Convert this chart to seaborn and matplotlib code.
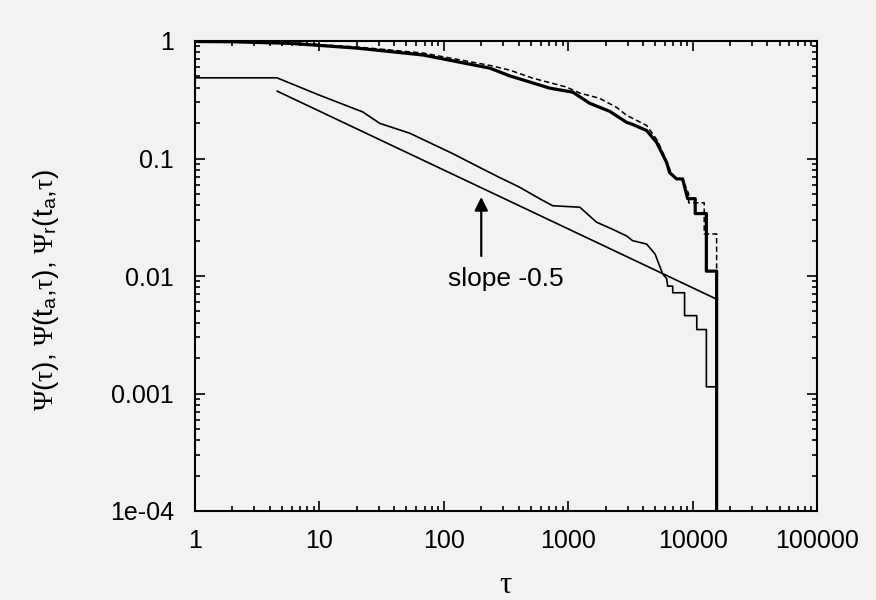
import numpy as np
import pandas as pd
import matplotlib
matplotlib.use('Agg')
import matplotlib.pyplot as plt
import seaborn as sns
from matplotlib.ticker import LogLocator, NullFormatter

# ---- data ----
tau_psi = [1, 2, 5.8, 20, 68, 234, 339, 710, 1087, 1489, 2155, 2950, 3296, 4270,
           5140, 6180, 6530, 7430, 8310, 9120, 10500, 10500, 12900, 12900, 15600, 15600]
psi = [0.99, 0.985, 0.955, 0.87, 0.76, 0.588, 0.505, 0.397, 0.367, 0.295, 0.252, 0.203,
       0.195, 0.173, 0.137, 0.0925, 0.076, 0.067, 0.067, 0.0455, 0.0455, 0.034, 0.034,
       0.011, 0.011, 1e-6]

tau_psi_ta = [1, 5.8, 20, 68, 234, 339, 518, 973, 1240, 1780, 2450, 2950, 4270, 5220,
              6180, 6700, 7430, 8310, 9300, 9300, 12400, 12400, 15600, 15600]
psi_ta = [1.0, 0.965, 0.89, 0.79, 0.62, 0.565, 0.483, 0.405, 0.36, 0.326, 0.272, 0.233,
          0.191, 0.142, 0.095, 0.076, 0.067, 0.067, 0.05, 0.042, 0.042, 0.0228, 0.0228, 1e-6]

tau_psi_r = [1, 4.56, 10, 22.3, 30.6, 53.3, 118, 194, 280, 339, 406, 600, 752, 1240, 1690,
             2270, 2950, 3290, 4270, 4990, 5750, 6180, 6300, 6920, 6920, 8620, 8620, 10800,
             10800, 12900, 12900, 15600, 15600]
psi_r = [0.486, 0.486, 0.346, 0.249, 0.199, 0.164, 0.110, 0.084, 0.069, 0.0626, 0.057,
         0.045, 0.0396, 0.0385, 0.0287, 0.025, 0.0219, 0.020, 0.0187, 0.0154, 0.0104,
         0.0095, 0.0082, 0.0082, 0.0072, 0.0072, 0.0046, 0.0046, 0.0035, 0.0035, 0.00114,
         0.00114, 1e-6]

slope_tau = [4.56, 15850]
slope_val = [0.375, 0.0063]

arrow_tau = 200
arrow_tip = 0.047
arrow_tail = 0.0148
slope_text = 'slope -0.5'
slope_text_pos = (315, 0.0094)

x_ticks = [1, 10, 100, 1000, 10000, 100000]
x_tick_labels = ['1', '10', '100', '1000', '10000', '100000']
y_ticks = [1e-4, 1e-3, 1e-2, 1e-1, 1]
y_tick_labels = ['1e-04', '0.001', '0.01', '0.1', '1']

# ---- style ----
sns.set_theme(style='ticks')
bg = '#f2f2f2'
plt.rcParams['font.family'] = ['Liberation Sans', 'DejaVu Sans']
plt.rcParams['mathtext.fontset'] = 'custom'
plt.rcParams['mathtext.rm'] = 'Liberation Sans'
plt.rcParams['mathtext.it'] = 'Liberation Serif'
plt.rcParams['mathtext.bf'] = 'Liberation Serif'
plt.rcParams['mathtext.sf'] = 'Liberation Sans'

fig = plt.figure(figsize=(8.76, 6.0), dpi=100, facecolor=bg)
ax = fig.add_axes([195 / 876, 1 - 511 / 600, (817 - 195) / 876, (511 - 41) / 600])
ax.set_facecolor(bg)
ax.set_xscale('log')
ax.set_yscale('log')

df_psi = pd.DataFrame({'tau': tau_psi, 'val': psi})
df_ta = pd.DataFrame({'tau': tau_psi_ta, 'val': psi_ta})
df_r = pd.DataFrame({'tau': tau_psi_r, 'val': psi_r})
df_slope = pd.DataFrame({'tau': slope_tau, 'val': slope_val})

sns.lineplot(data=df_r, x='tau', y='val', ax=ax, color='black', lw=1.2,
             sort=False, estimator=None, legend=False)
sns.lineplot(data=df_slope, x='tau', y='val', ax=ax, color='black', lw=1.2,
             sort=False, estimator=None, legend=False)
sns.lineplot(data=df_ta, x='tau', y='val', ax=ax, color='black', lw=1.1,
             linestyle=(0, (3.5, 2)), sort=False, estimator=None, legend=False)
sns.lineplot(data=df_psi, x='tau', y='val', ax=ax, color='black', lw=2.3,
             sort=False, estimator=None, legend=False)

ax.annotate('', xy=(arrow_tau, arrow_tip), xytext=(arrow_tau, arrow_tail),
            arrowprops=dict(arrowstyle='-|>', color='black', lw=1.6,
                            mutation_scale=20, shrinkA=0, shrinkB=0))
ax.text(slope_text_pos[0], slope_text_pos[1], slope_text, ha='center', va='center',
        fontsize=19, color='black')

ax.set_xlim(1, 1e5)
ax.set_ylim(1e-4, 1)
ax.set_xticks(x_ticks, x_tick_labels)
ax.set_yticks(y_ticks, y_tick_labels)
ax.xaxis.set_minor_locator(LogLocator(base=10, subs=np.arange(2, 10), numticks=100))
ax.yaxis.set_minor_locator(LogLocator(base=10, subs=np.arange(2, 10), numticks=100))
ax.xaxis.set_minor_formatter(NullFormatter())
ax.yaxis.set_minor_formatter(NullFormatter())

ax.tick_params(which='both', direction='in', top=True, right=True,
               color='black', width=1.2, labelcolor='black')
ax.tick_params(which='major', length=7, labelsize=18)
ax.tick_params(which='minor', length=3.5)
ax.tick_params(axis='x', which='major', pad=13)
ax.tick_params(axis='y', which='major', pad=15)

for s in ax.spines.values():
    s.set_visible(True)
    s.set_color('black')
    s.set_linewidth(1.5)

ax.set_xlabel(r'$\tau$', fontsize=22, color='black')
ax.set_ylabel(r'$\mathbf{\Psi}(\tau)\mathsf{,}\ \mathbf{\Psi}(\mathsf{t}_\mathsf{a}\mathsf{,}\tau)\mathsf{,}\ '
              r'\mathbf{\Psi}_\mathsf{r}(\mathsf{t}_\mathsf{a}\mathsf{,}\tau)$',
              fontsize=20, color='black')
ax.xaxis.set_label_coords(0.5, -0.125)
ax.yaxis.set_label_coords(-0.215, 0.47)

fig.savefig('out.png', dpi=100, facecolor=bg)
